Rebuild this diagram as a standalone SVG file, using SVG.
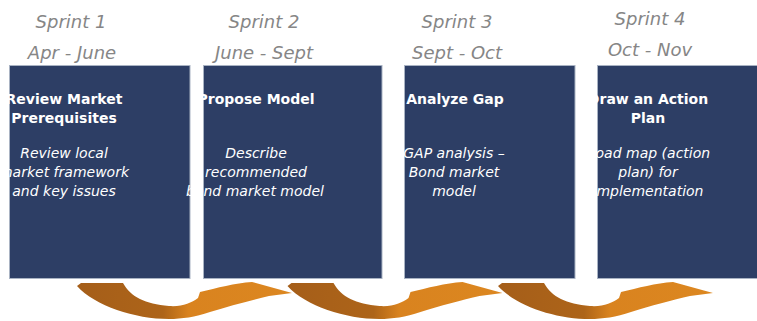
<svg xmlns="http://www.w3.org/2000/svg" xmlns:xlink="http://www.w3.org/1999/xlink" width="757" height="321" viewBox="0 0 757 321">
<style>
.box{fill:#2d3e65;stroke:#a9b3c3;stroke-width:1}
.sprint{font-family:"DejaVu Sans",Verdana,sans-serif;font-style:italic;font-size:18px;fill:#868686;text-anchor:middle}
.title{font-family:"DejaVu Sans",Verdana,sans-serif;font-weight:bold;font-size:14px;fill:#ffffff;text-anchor:middle}
.desc{font-family:"DejaVu Sans",Verdana,sans-serif;font-style:italic;font-size:14px;fill:#ffffff;text-anchor:middle}
</style>
<defs>
<linearGradient id="arrowGrad" x1="0" y1="0" x2="1" y2="0">
<stop offset="0" stop-color="#a55e19"/>
<stop offset="0.40" stop-color="#ad6419"/>
<stop offset="0.52" stop-color="#d9831f"/>
<stop offset="1" stop-color="#dc8720"/>
</linearGradient>
<path id="uArrow" fill="url(#arrowGrad)" d="M 0 286 L 4 283 L 46 283 C 54 297, 68 304, 92 306 C 105 307, 114 303, 121 298 L 123 292 C 140 288, 158 283, 175 282 L 215 293 L 192 296 C 175 300, 152 306, 133 312 C 118 317, 105 319, 92 319 C 58 319, 18 306, 0 286 Z"/>
</defs>
<rect width="757" height="321" fill="#ffffff"/>
<g id="connectors">
<use xlink:href="#uArrow" href="#uArrow" transform="translate(77,0)"/>
<use xlink:href="#uArrow" href="#uArrow" transform="translate(287.5,0)"/>
<use xlink:href="#uArrow" href="#uArrow" transform="translate(498,0)"/>
</g>
<g id="sprint1">
<text class="sprint" x="71" y="28">Sprint 1</text>
<text class="sprint" x="72" y="58.5">Apr - June</text>
<rect class="box" x="9.5" y="65.5" width="180.5" height="213"/>
<text class="title" x="64" y="104">Review Market</text>
<text class="title" x="64" y="123">Prerequisites</text>
<text class="desc" x="64" y="158">Review local</text>
<text class="desc" x="64" y="177">market framework</text>
<text class="desc" x="64" y="196">and key issues</text>
</g>
<g id="sprint2">
<text class="sprint" x="264" y="28">Sprint 2</text>
<text class="sprint" x="264" y="58.5">June - Sept</text>
<rect class="box" x="203.5" y="65.5" width="178.5" height="213"/>
<text class="title" x="256" y="104">Propose Model</text>
<text class="desc" x="256" y="158">Describe</text>
<text class="desc" x="256" y="177">recommended</text>
<text class="desc" x="255" y="196">bond market model</text>
</g>
<g id="sprint3">
<text class="sprint" x="457" y="28">Sprint 3</text>
<text class="sprint" x="457" y="58.5">Sept - Oct</text>
<rect class="box" x="404.5" y="65.5" width="170.5" height="213"/>
<text class="title" x="455" y="104">Analyze Gap</text>
<text class="desc" x="454" y="158">GAP analysis –</text>
<text class="desc" x="454" y="177">Bond market</text>
<text class="desc" x="454" y="196">model</text>
</g>
<g id="sprint4">
<text class="sprint" x="650" y="25">Sprint 4</text>
<text class="sprint" x="650" y="55.5">Oct - Nov</text>
<rect class="box" x="597.5" y="65.5" width="178" height="213"/>
<text class="title" x="648" y="104">Draw an Action</text>
<text class="title" x="648" y="123">Plan</text>
<text class="desc" x="648" y="158">Road map (action</text>
<text class="desc" x="648" y="177">plan) for</text>
<text class="desc" x="648" y="196">implementation</text>
</g>
</svg>
